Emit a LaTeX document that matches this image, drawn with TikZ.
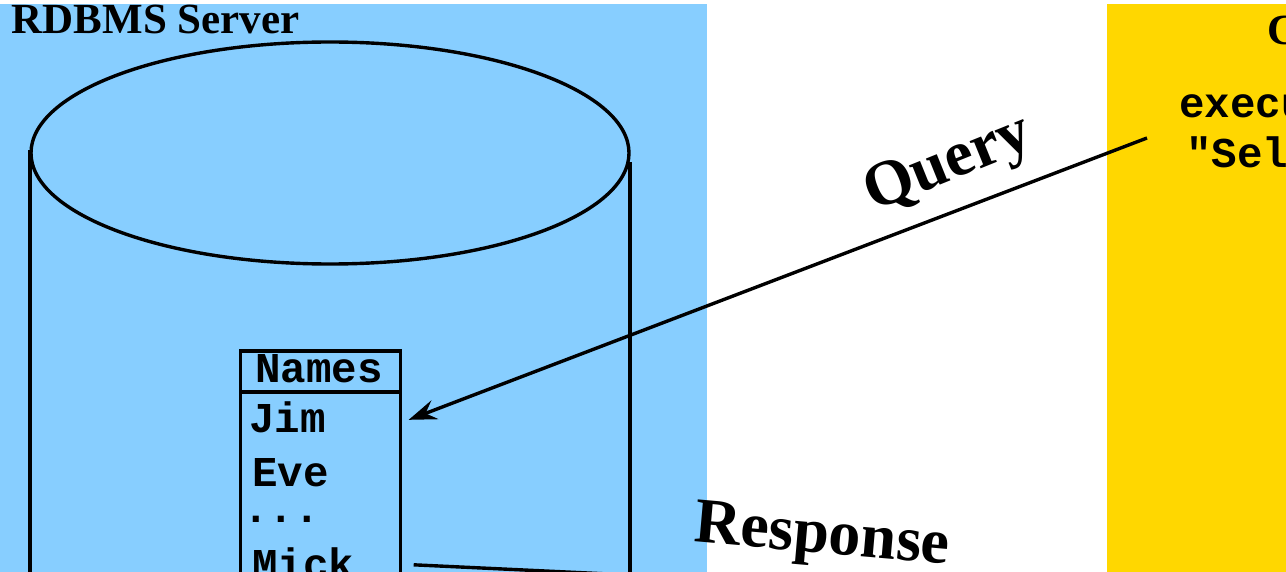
\documentclass[tikz,border=0pt]{standalone}
\usepackage{fontspec}
\setmainfont{Liberation Serif}
\setmonofont{Liberation Mono}
\usetikzlibrary{shapes.geometric,positioning,arrows.meta}
\definecolor{serverblue}{HTML}{87CEFF}
\definecolor{clientgold}{HTML}{FFD700}
\tikzset{
  >={Stealth[length=28pt,width=20pt,inset=10pt]},
  panel/.style={anchor=north west,inner sep=0pt,outer sep=0pt},
  heading/.style={inner sep=0pt,font=\fontsize{43}{46}\selectfont\bfseries},
  arrowlabel/.style={inner sep=0pt,font=\fontsize{64}{68}\selectfont\bfseries},
  code/.style={inner sep=0pt,anchor=base west,font=\fontsize{42.5}{46}\selectfont\ttfamily\bfseries},
  tablebox/.style={draw,line width=3.4pt,inner sep=0pt,minimum width=160pt},
  flow/.style={line width=3.4pt},
}

\begin{document}
\begin{tikzpicture}[x=1pt,y=-1pt]
  \useasboundingbox (0,0) rectangle (1286,572);
  \clip (0,0) rectangle (1286,572);
  % panels
  \node[panel,fill=serverblue,minimum width=707pt,minimum height=568pt] (server) at (0,4) {};
  \node[panel,fill=clientgold,minimum width=179pt,minimum height=568pt] (client) at (1107,4) {};
  \node[heading,anchor=base west] (servertitle) at (11.5,34) {RDBMS Server};
  \node[heading,anchor=base west] (clienttitle) at (1267,45) {C};
  % database
  \node[draw,ellipse,flow,minimum width=598pt,minimum height=222pt,inner sep=0pt] (dbtop) at (330,153) {};
  \coordinate (dbleftbot) at (30,600);
  \coordinate (dbrightbot) at (630,600);
  \draw[flow] (dbleftbot) -- (dbleftbot |- dbtop.west) -- ++(0,-3);
  \draw[flow] (dbrightbot) -- (630,162);
  % table
  \node[tablebox,minimum height=41pt] (names) at (320.5,371.5) {};
  \node[tablebox,minimum height=240pt,below=-3.4pt of names] (rows) {};
  \node[code] (nameshead) at (255,382) {Names};
  \node[code] (jim) at (249,432) {Jim};
  \node[code] (eve) at (252,486) {Eve};
  \node[code] (dots) at (243,522) {...};
  \node[code] (mick) at (252,578) {Mick};
  % client code
  \node[code] (exec) at (1179,118) {execu};
  \node[code] (sel) at (1186,168) {"Sel};
  % connectors
  \coordinate (clientport) at (1147,138);
  \coordinate (respend) at (800,583);
  \draw[flow,->] (clientport) -- ([xshift=6.5pt,yshift=-3pt]rows.east |- jim);
  \draw[flow] ([xshift=11.5pt,yshift=-2pt]rows.east |- mick) -- (respend);
  \node[arrowlabel,rotate=22] (query) at (949,166) {Query};
  \node[arrowlabel,rotate=-5] (response) at (822,539) {Response};
\end{tikzpicture}
\end{document}
